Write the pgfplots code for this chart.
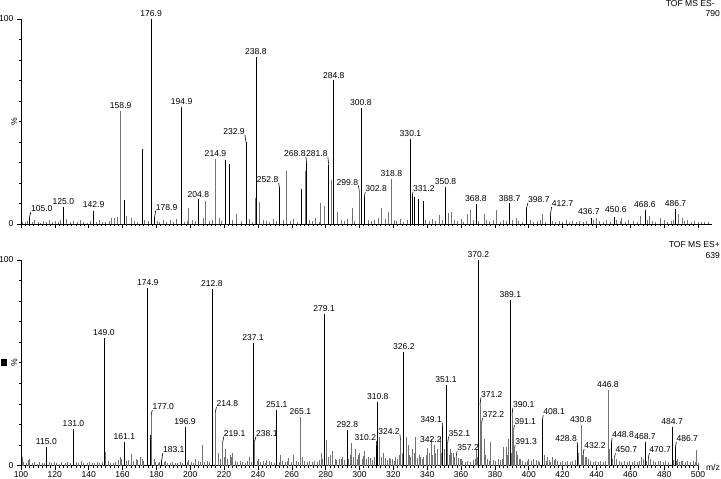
\documentclass[border=0pt]{standalone}
\usepackage{pgfplots}
\pgfplotsset{compat=1.18}
\usepackage{fontspec}
\setmainfont{Liberation Sans}
\newcommand{\lblfont}{\fontsize{8.6}{10}\selectfont}
\tikzset{lbl/.style={font=\lblfont, inner sep=0pt},
  leader/.style={black, line width=0.6bp}}
% label directly above a peak
\newcommand{\pk}[3]{\node[lbl,anchor=south] at (axis cs:#1,#2) {#3};}
% label to the right of a peak, with a leader
\newcommand{\pkR}[5]{\draw[leader] (axis cs:#1,#2) -- (axis cs:#3,#4); \node[lbl,anchor=south west] at (axis cs:#3,#4) {#5};}
% label to the left of a peak, with a leader
\newcommand{\pkL}[5]{\draw[leader] (axis cs:#1,#2) -- (axis cs:#3,#4); \node[lbl,anchor=south east] at (axis cs:#3,#4) {#5};}
\pgfplotsset{ms/.style={
  x=1.6925bp, ymin=0, ymax=100, xmin=100,
  axis x line=bottom, axis y line=left, axis line style={-, black, line width=0.8bp},
  tick align=outside, major tick length=4bp, minor tick length=2bp,
  tick style={black, line width=0.6bp},
  xtick={100,120,...,500}, minor x tick num=7,
  ytick={0,100}, minor ytick={10,20,...,90}, yticklabels={},
  tick label style={font=\lblfont},
  xticklabel style={inner sep=0pt, yshift=-2.2bp},
  /pgf/number format/assume math mode=true,
  clip=false, anchor=south west}}
\begin{document}
\begin{tikzpicture}
\path[use as bounding box] (0,0) rectangle (721bp,479bp);
% ---------------- top panel: TOF MS ES- ----------------
\begin{axis}[ms, at={(21bp,255bp)}, y=2.05bp, xmax=508.5, xticklabels={}]
\addplot[ycomb, mark=none, black!55, line width=0.7bp] coordinates {
(101,1.2)(102.5,0.8)(104,1.5)(106.5,1)(108,2)(110,1.2)(111.5,0.7)(113,1.5)(115,1)(117,2)(118.5,1)(120,1.5)(122,0.8)(123.5,1.8)(127,2.5)(129,1)(131,1.5)(133,0.8)(135,2)(137,1.2)(139,0.7)(141,1.5)(144.5,1)(146,2)(148,1.2)(150,0.8)(152,1.6)(153.5,3)(155,3)(157,3.5)(162.5,4)(165,2.7)(167,1.5)(169,1.2)(173,2)(175,1.5)(180.5,1.5)(182,1)(184,2)(186,1.2)(188,1.8)(190,1)(192,2.2)(196.5,1.2)(198,1.5)(201,2)(203,1.5)(207.9,3)(211,1.5)(213,2)(217,3)(218.5,1.5)(225,2)(227.5,5)(230,1.5)(235,2.5)(236.5,1.2)(243,2)(245,1.5)(247,1)(249,2.5)(251,1.5)(255,2)(259,1.5)(261,2.5)(263,1)(270.5,2)(272,1.5)(274,3)(276,1.2)(289,2)(291,1.5)(293,2.5)(297,1.5)(305,2)(307,1.5)(309,2)(311,3)(315,2.5)(320.5,2)(322,1.5)(324,2.5)(326,1.2)(328,2)(339,2)(341,1.5)(343,2.5)(345,1.5)(349,2)(356,2)(358,1.5)(360,2.5)(361.5,1.2)(367,2)(370.5,1.5)(375,2)(377,1.5)(379,2)(383,1.2)(385,2)(387,1.5)(390.5,2)(394,1.5)(396,1.2)(401,2)(403,1.2)(405,1.5)(407,2)(410,1.2)(414,1.5)(416,1)(418,1.5)(420,1.2)(422,2)(424,1)(426,1.5)(428,1.2)(430,1.5)(432,1)(434,1.5)(438,2)(442,1.5)(444,1)(446,1.8)(448,1.2)(452,2)(454,1.5)(457,1.2)(459,1.8)(462,1.5)(464,1.2)(469.8,2)(473,1.5)(475,1.2)(480,1.8)(482,1.2)(484,1.5)(485.5,2)(492,1.5)(496,1.2)(498,1.5)(500,1)(502,1.2)(504,0.8)(506,1)
(158.9,55)(199.0,8)(208.9,11)(214.9,31.7)(220.6,18)(238.3,12.5)(241.0,10.8)(256.9,26)(268.2,26)(277.0,10)(279.0,9)(283.6,21.5)(287,6)(295.6,8)(299.8,16.6)(313,8)(317,6)(318.8,22)(347,4.5)(352.5,5.4)(354.2,6)(363.5,5)(365.5,7)(373.5,5)(380.6,7)(392.5,3)(408,5)(440,3)(455,3)(466,4)(471,4)(478,3)(488.5,5)(490.5,3)(494,2)
};
\addplot[ycomb, mark=none, black, line width=0.7bp] coordinates {
(104.9,3)(125.0,8.3)(142.9,6.3)(160.8,11.7)(171.5,36.6)(176.9,100)(178.9,3.2)(194.9,57)(204.8,12)(220.9,31)(222.9,29.3)(232.9,40)(238.8,81.5)(252.8,17.5)(265.9,17)(268.8,29.8)(281.8,29)(284.8,70)(300.8,56.5)(302.8,13)(330.1,41.5)(331.2,13.5)(332.5,13)(334.5,12)(337.5,11)(350.8,18)(368.8,9.7)(388.7,10)(398.7,7.8)(412.7,4)(436.7,3)(450.6,3.5)(468.6,6.8)(486.7,7.5)
};
\pk{125.0}{9.3}{125.0}
\pk{142.9}{7.8}{142.9}
\pk{158.9}{56}{158.9}
\pk{176.9}{101.1}{176.9}
\pk{194.9}{58}{194.9}
\pk{204.8}{13}{204.8}
\pk{214.9}{32.7}{214.9}
\pk{238.8}{82.5}{238.8}
\pk{284.8}{71}{284.8}
\pk{300.8}{57.5}{300.8}
\pk{318.8}{23}{318.8}
\pk{330.1}{42.5}{330.1}
\pk{350.8}{19}{350.8}
\pk{368.8}{10.7}{368.8}
\pk{388.7}{11}{388.7}
\pk{435.5}{4.4}{436.7}
\pk{451.5}{5.4}{450.6}
\pk{468.6}{7.8}{468.6}
\pk{486.7}{8.5}{486.7}
\pkR{104.9}{3}{105.8}{5.8}{105.0}
\pkR{178.9}{3.2}{179.6}{6.6}{178.9}
\pkL{232.9}{40}{232.3}{43.4}{232.9}
\pkL{252.8}{17.5}{252.2}{20}{252.8}
\pkL{268.8}{29.8}{268.3}{32.7}{268.8}
\pkL{281.8}{29}{281.3}{32.7}{281.8}
\pkL{299.8}{16.6}{299.3}{18.8}{299.8}
\pkR{302.8}{13}{303.4}{15.6}{302.8}
\pkR{331.2}{13.5}{331.6}{15.8}{331.2}
\pkR{398.7}{7.8}{399.5}{10.2}{398.7}
\pkR{412.7}{4}{413.5}{8.3}{412.7}
\node[lbl, anchor=east] at (axis cs:95.6,0) {0};
\node[lbl, anchor=east] at (axis cs:95.6,100) {100};
\node[lbl, rotate=90] at (axis cs:95.9,50) {\%};
\node[lbl, anchor=east] at (axis cs:510,107.3) {TOF MS ES-};
\node[lbl, anchor=east] at (axis cs:513,102.7) {790};
\end{axis}
% ---------------- bottom panel: TOF MS ES+ ----------------
\begin{axis}[ms, at={(21bp,13.5bp)}, y=2.055bp, xmax=500]
\addplot[ycomb, mark=none, black!55, line width=0.7bp] coordinates {
(101.5,1.5)(103,1)(104.5,2.5)(106.5,1.2)(108,1.5)(109.5,0.8)(111,1.5)(112.5,1)(114,1.2)(116.5,1.5)(118,1)(119.5,1.8)(121,1.2)(122.5,0.8)(124,1.5)(126,1)(127.5,1.5)(129,1.2)(132.5,1.5)(134,1)(135.5,2)(137,1.2)(139,1)(140.5,1.5)(142,1)(143.5,1.2)(145,1.8)(146.5,1)(148,1.5)(151.5,2)(153,1.2)(154.5,1)(156,1.5)(157.5,2.5)(159.5,3)(162.5,2)(163.5,2.5)(166.5,2)(169,2.5)(171.5,3)(172.5,2)(179.5,1.5)(181,1.2)(182,1.8)(184.5,1.5)(186.5,1.2)(188,1)(189.5,1.5)(191,1.2)(192.5,1)(194,1.5)(195.5,1.2)(198,1.5)(200.5,1.5)(202,1)(204.5,2)(206,1.5)(208.5,1.5)(210,2)(211.5,1.5)(217.5,3)(220,4)(222,3)(224,4)(226.5,2)(228,1.5)(229.5,2)(231,1.5)(232.5,1)(234,2)(236,1.5)(239.5,2)(241.5,1.5)(243,2)(244.5,1)(246.5,2)(248,1.5)(249.5,1)(252.5,1.5)(254.5,2)(256,1.5)(257.5,2)(259.5,1.5)(262.5,2)(264,1.5)(267.5,2)(269,1.5)(270.5,2)(272,1.5)(273.5,2)(275,1.5)(276.5,2.5)(278.2,3)(281.5,4)(283,3.5)(285.5,3)(286.5,2.5)(289,3)(291,2.5)(293.5,3)(294.3,5)(296.5,4)(298.5,3)(299.3,5)(301.5,3)(302.3,4.5)(304,3)(306.5,3.5)(307.5,2.5)(311.5,5)(313,4)(315.5,3.5)(316.5,2.5)(317.5,3.5)(319.5,3)(320.5,2)(322.5,3)(323.3,5)(325.3,6)(329.6,5)(330.3,4)(332.2,6)(334.3,3.5)(335.2,5)(337,3)(338,4)(339.3,5)(341.2,6)(343.2,5)(345,6)(348.3,6)(350.3,8)(352.9,5)(354.5,6)(356.3,4)(358.2,3.5)(359.3,3)(361,2)(362.5,1.5)(364,2)(365.5,1.5)(367,2.5)(368.3,3)(369.6,4)(374.5,5)(375.5,3)(376.5,2)(379,2.5)(380.5,2)(382,3)(383.5,2.5)(384.3,3)(387.3,5)(389.8,6)(393.5,5)(394.3,3)(396.5,2)(398,1.5)(399,2)(401.5,2)(402.5,1.5)(404.5,2.5)(405.5,2)(406.5,1.5)(409,3)(410.5,2)(412,2.5)(413,1.5)(415,2.5)(417,2)(418.5,1.5)(420,2)(421.5,1.5)(423,2)(424.5,1.5)(426,2)(427.5,2.5)(431.5,5)(433.3,4)(435.5,3)(436.5,2)(438,1.5)(439.5,2)(441,1.5)(442.5,2)(444,1.5)(445.5,2)(449.5,3)(451.5,2.5)(453.5,2)(455,1.5)(456.5,2)(458,1.5)(459.5,2)(461,1.5)(462.5,2)(464,1.5)(465.5,2)(467.5,3)(469.5,2)(473.5,2)(475,1.5)(476.5,2)(479.5,1.5)(481,2)(482.5,1.5)(485.5,2.5)(487.5,2)(489,1.5)(491,2)(492.5,1.5)(494,2)(495.5,1.5)(497,2)(498.5,1.5)(500,1)
(100.8,4)(105,3)(150.0,6.5)(158.5,4)(165,5.5)(168,3)(170.5,4)(177.0,25)(178.5,3)(185,2)(199,2.5)(203,3)(207.2,10)(214.8,26)(216.5,6)(219.1,11)(221,8)(223.5,5)(225,6)(235,4)(238.1,12)(240,3)(245,2.5)(253,5)(258,3.5)(261,5)(265.1,23.6)(266,4)(277.5,6)(280.7,12.5)(282.5,5)(284,7)(288,3)(290,4)(295.2,11)(297.5,8)(300,6)(303,7)(305,4)(309,4)(312,14)(314,6)(318,3)(321,4)(324.2,12.4)(327.5,14)(328.6,10)(331,8)(333.2,14)(336,4)(340.2,8.5)(342.6,13)(344,10)(346,8)(347.6,14)(352.1,11)(353.5,8)(355.5,6)(357.2,5)(360,3)(369,8)(371.2,29.5)(372.2,21)(373.5,13)(377.5,11.4)(385,9)(386.5,9)(388,13)(390.1,24.5)(391.1,17.8)(391.6,8.5)(392.5,7)(395,3)(400,3)(403,3)(409.5,5)(411,4)(414,4)(416,3)(429.5,6)(430.8,19.7)(432.2,6)(434,4)(446.8,36.7)(447.5,8)(450.7,4)(452,3)(466.5,4)(470.7,3.7)(472,3)(478,2)(488,3)(490,2)(499.2,7.5)
};
\addplot[ycomb, mark=none, black, line width=0.7bp] coordinates {
(115.0,9)(131.0,17.8)(149.0,62)(161.1,11.4)(174.9,86.5)(176.6,15)(183.1,2.5)(196.9,18.7)(212.8,86)(237.1,59.6)(251.1,27)(279.1,73.7)(292.8,17.3)(310.2,10)(310.8,31)(326.2,55.2)(349.1,18.7)(351.1,39.2)(370.2,100)(389.1,80.5)(408.1,22)(428.8,10)(448.8,11)(468.7,11.4)(484.7,18.7)(486.7,9)
};
\pk{115.0}{10}{115.0}
\pk{131.0}{18.8}{131.0}
\pk{149.0}{63}{149.0}
\pk{161.1}{12.4}{161.1}
\pk{174.9}{87.5}{174.9}
\pk{196.9}{19.7}{196.9}
\pk{212.8}{87}{212.8}
\pk{237.1}{60.6}{237.1}
\pk{251.1}{28}{251.1}
\pk{265.1}{24.6}{265.1}
\pk{279.1}{74.7}{279.1}
\pk{292.8}{18.3}{292.8}
\pk{310.8}{32}{310.8}
\pk{326.2}{56.2}{326.2}
\pk{342.2}{11}{342.2}
\pk{351.1}{40.2}{351.1}
\pk{370.2}{101}{370.2}
\pk{389.1}{81.5}{389.1}
\pk{430.8}{20.7}{430.8}
\pk{446.8}{37.7}{446.8}
\pk{468.7}{12.4}{468.7}
\pk{484.7}{19.7}{484.7}
\pkR{177.0}{25}{177.6}{27}{177.0}
\pkR{183.1}{2.5}{183.8}{6}{183.1}
\pkR{214.8}{26}{215.5}{28.5}{214.8}
\pkR{219.1}{11}{219.8}{14}{219.1}
\pkR{238.1}{12}{238.8}{14}{238.1}
\pkL{310.2}{10}{309.9}{12}{310.2}
\pkL{324.2}{12.4}{323.9}{15}{324.2}
\pkL{349.1}{18.7}{348.8}{21}{349.1}
\pkR{352.1}{11}{352.6}{14}{352.1}
\pkR{357.2}{5}{357.7}{7}{357.2}
\pkR{371.2}{29.5}{371.7}{33}{371.2}
\pkR{372.2}{21}{372.7}{23}{372.2}
\pkR{390.1}{24.5}{390.6}{28}{390.1}
\pkR{391.1}{17.8}{391.5}{19.7}{391.1}
\pkR{391.6}{8.5}{392.0}{10}{391.3}
\pkR{408.1}{22}{408.5}{24.5}{408.1}
\pkL{428.8}{10}{428.5}{11.4}{428.8}
\pkR{432.2}{6}{432.7}{8}{432.2}
\pkR{448.8}{11}{449.3}{13.4}{448.8}
\pkR{450.7}{4}{451.2}{6}{450.7}
\pkR{470.7}{3.7}{471.2}{6}{470.7}
\pkR{486.7}{9}{487.2}{11.4}{486.7}
\node[lbl, anchor=east] at (axis cs:95.6,0) {0};
\node[lbl, anchor=east] at (axis cs:95.6,100) {100};
\node[lbl, rotate=90] at (axis cs:95.9,50) {\%};
\fill[black] (axis cs:88.2,48.4) rectangle (axis cs:91.6,51.6);
\node[lbl, anchor=east] at (axis cs:513,107.3) {TOF MS ES+};
\node[lbl, anchor=east] at (axis cs:513,102.4) {639};
\node[lbl, anchor=east] at (axis cs:513,-0.7) {m/z};
\end{axis}
\end{tikzpicture}
\end{document}
